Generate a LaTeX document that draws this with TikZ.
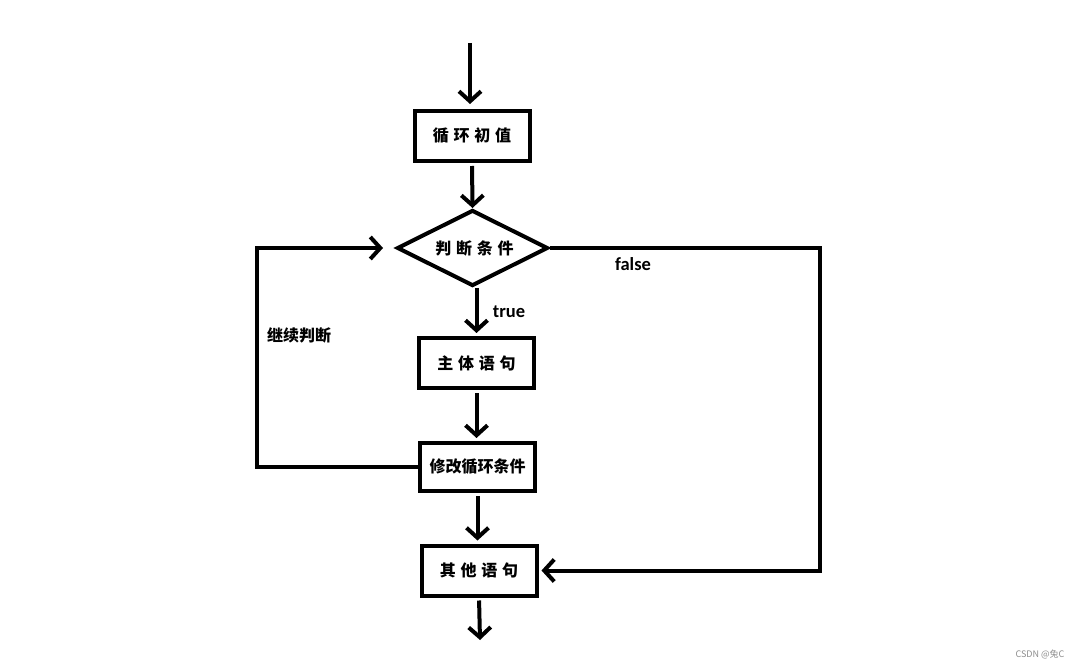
\documentclass[tikz,border=0pt]{standalone}
\usepackage{fontspec}
\newfontfamily\cjk{Noto Sans CJK SC}
\newfontfamily\lat{Carlito}
\usetikzlibrary{arrows.meta,shapes.geometric}
\newcommand{\gap}{\hspace{0.3em}}

\begin{document}
\begin{tikzpicture}[->,>={Straight Barb[length=10pt,width=22pt]},x=1pt,y=-1pt,
                    line width=4pt,font=\cjk\bfseries\fontsize{16}{16}\selectfont]
  \tikzstyle{box}=[draw,rectangle,inner sep=0pt,minimum width=115pt,minimum height=50pt]
  \tikzstyle{cond}=[draw,diamond,aspect=2,inner sep=0pt,minimum width=151pt,minimum height=76pt]
  \tikzstyle{label}=[font=\lat\bfseries\fontsize{18.5}{18.5}\selectfont]
  \useasboundingbox (0,0) rectangle (1082,668);

  \node[box]  (init)   at (472,136)   {循\gap 环\gap 初\gap 值};
  \node[cond] (test)   at (472.5,248) {\hspace{4pt}判\gap 断\gap 条\gap 件};
  \node[box]  (body)   at (476.5,363) {主\gap 体\gap 语\gap 句};
  \node[box, minimum height=48pt] (update) at (477.5,467) {修改循环条件};
  \node[box]  (other)  at (479,570.5) {其\gap 他\gap 语\gap 句};

  \coordinate (start) at (470,43);
  \coordinate (end)   at (480,640);
  \coordinate (back)  at (257,248);
  \coordinate (exit)  at (820,248);

  \draw (start) -- (start |- init.north) [shorten >=5pt];
  \draw[shorten <=3pt] (init.south) -- (test.north);
  \draw (test.south -| body.north) -- (body.north) [shorten >=3pt];
  \draw[shorten <=3pt,shorten >=3pt] (body.south) -- (body.south |- update.north);
  \draw[shorten <=3pt,shorten >=3pt] (update.south) -- (update.south |- other.north);
  \draw[shorten <=3pt] (other.south) -- (end);
  \draw[shorten >=12pt] (update.west) -| (back) -- (test.west);
  \draw[shorten >=3pt] (test.east) -- (exit) |- (other.east);

  \node[label] (truelbl)  at (509,312) {true};
  \node[label] (falselbl) at (633,264) {false};
  \node (againlbl) at (299,335) {继续判断};
  \node[text=black!45,font=\cjk\fontsize{9}{9}\selectfont] (mark) at (1040,654) {CSDN @兔C};
\end{tikzpicture}
\end{document}
